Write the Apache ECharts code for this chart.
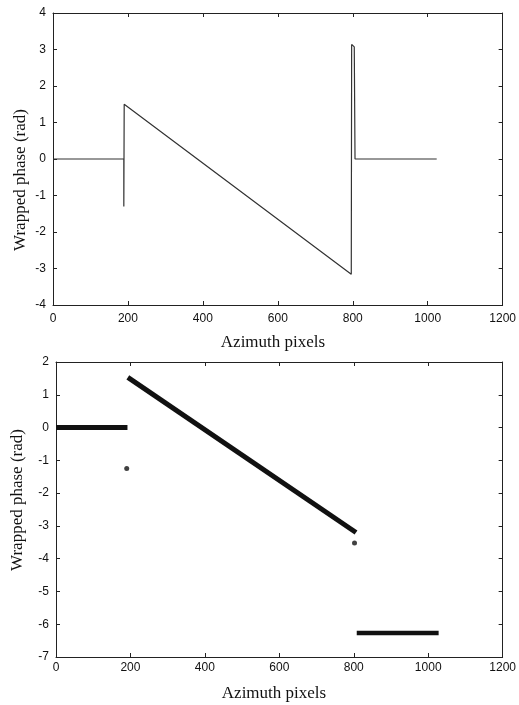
<!DOCTYPE html>
<html>
<head>
<meta charset="utf-8">
<script src="https://cdn.jsdelivr.net/npm/echarts@6/dist/echarts.min.js"></script>
<style>
  html, body { margin: 0; padding: 0; background: #fff; }
  #chart { width: 519px; height: 705px; }
</style>
</head>
<body>
<div id="chart"></div>
<script>
  // top panel: wrapped phase as a continuous line
  const topAzimuth = [0, 189, 189, 190, 796, 797, 804, 806, 1024]
  const topPhase = [0, 0, -1.3, 1.5, -3.16, 3.14, 3.07, 0, 0]

  // bottom panel: dense samples drawn as thick segments + stray points
  const zeroAzimuth = [0, 192]
  const zeroPhase = [0, 0]
  const rampAzimuth = [193, 806]
  const rampPhase = [1.53, -3.2]
  const lowAzimuth = [808, 1028]
  const lowPhase = [-6.27, -6.27]
  const strayAzimuth = [190, 802]
  const strayPhase = [-1.25, -3.52]

  const xTicks = [0, 200, 400, 600, 800, 1000, 1200]
  const topYTicks = [-4, -3, -2, -1, 0, 1, 2, 3, 4]
  const bottomYTicks = [-7, -6, -5, -4, -3, -2, -1, 0, 1, 2]

  const pairs = (xs, ys) => xs.map((x, i) => [x, ys[i]])

  const axisColor = '#222'
  const labelStyle = {
    color: '#111',
    fontFamily: 'Liberation Sans, Arial, sans-serif',
    fontSize: 12,
    formatter: v => String(v)
  }

  function frameX(gridIndex, position, showLabel, margin) {
    return {
      type: 'value',
      gridIndex,
      position,
      min: xTicks[0],
      max: xTicks[xTicks.length - 1],
      interval: 200,
      axisLine: { show: true, onZero: false, lineStyle: { color: axisColor, width: 1 } },
      axisTick: { show: true, inside: true, length: 4, lineStyle: { color: axisColor } },
      axisLabel: Object.assign({ show: showLabel, margin }, labelStyle),
      splitLine: { show: false }
    }
  }

  function frameY(gridIndex, position, ticks, showLabel) {
    return {
      type: 'value',
      gridIndex,
      position,
      min: ticks[0],
      max: ticks[ticks.length - 1],
      interval: 1,
      axisLine: { show: true, onZero: false, lineStyle: { color: axisColor, width: 1 } },
      axisTick: { show: true, inside: true, length: 4, lineStyle: { color: axisColor } },
      axisLabel: Object.assign({ show: showLabel, margin: 7 }, labelStyle),
      splitLine: { show: false }
    }
  }

  const titleFont = {
    fill: '#111',
    font: '17px "Liberation Serif", "Times New Roman", serif',
    textAlign: 'center',
    textVerticalAlign: 'middle'
  }

  const myChart = echarts.init(document.getElementById('chart'))
  const option = {
    animation: false,
    backgroundColor: '#fff',
    grid: [
      { left: 53, top: 13, width: 450, height: 292 },
      { left: 56, top: 362, width: 455, height: 295 }
    ],
    xAxis: [
      frameX(0, 'bottom', true, 8),
      frameX(0, 'top', false, 8),
      frameX(1, 'bottom', true, 5),
      frameX(1, 'top', false, 5)
    ],
    yAxis: [
      frameY(0, 'left', topYTicks, true),
      frameY(0, 'right', topYTicks, false),
      frameY(1, 'left', bottomYTicks, true),
      frameY(1, 'right', bottomYTicks, false)
    ],
    graphic: [
      { type: 'text', x: 273, y: 343, style: Object.assign({ text: 'Azimuth pixels' }, titleFont) },
      { type: 'text', x: 274, y: 694, style: Object.assign({ text: 'Azimuth pixels' }, titleFont) },
      { type: 'text', x: 21, y: 180, rotation: Math.PI / 2, style: Object.assign({ text: 'Wrapped phase (rad)' }, titleFont) },
      { type: 'text', x: 18, y: 500, rotation: Math.PI / 2, style: Object.assign({ text: 'Wrapped phase (rad)' }, titleFont) }
    ],
    series: [
      {
        type: 'line',
        xAxisIndex: 0,
        yAxisIndex: 0,
        data: pairs(topAzimuth, topPhase),
        showSymbol: false,
        lineStyle: { color: '#333', width: 1.2 }
      },
      {
        type: 'line',
        xAxisIndex: 2,
        yAxisIndex: 2,
        data: pairs(zeroAzimuth, zeroPhase),
        showSymbol: false,
        lineStyle: { color: '#111', width: 5 }
      },
      {
        type: 'line',
        xAxisIndex: 2,
        yAxisIndex: 2,
        data: pairs(rampAzimuth, rampPhase),
        showSymbol: false,
        lineStyle: { color: '#111', width: 5 }
      },
      {
        type: 'line',
        xAxisIndex: 2,
        yAxisIndex: 2,
        data: pairs(lowAzimuth, lowPhase),
        showSymbol: false,
        lineStyle: { color: '#111', width: 4.5 }
      },
      {
        type: 'scatter',
        xAxisIndex: 2,
        yAxisIndex: 2,
        data: pairs(strayAzimuth, strayPhase),
        symbol: 'circle',
        symbolSize: 5,
        itemStyle: { color: '#111' }
      }
    ]
  }
  option && myChart.setOption(option)
</script>
</body>
</html>
